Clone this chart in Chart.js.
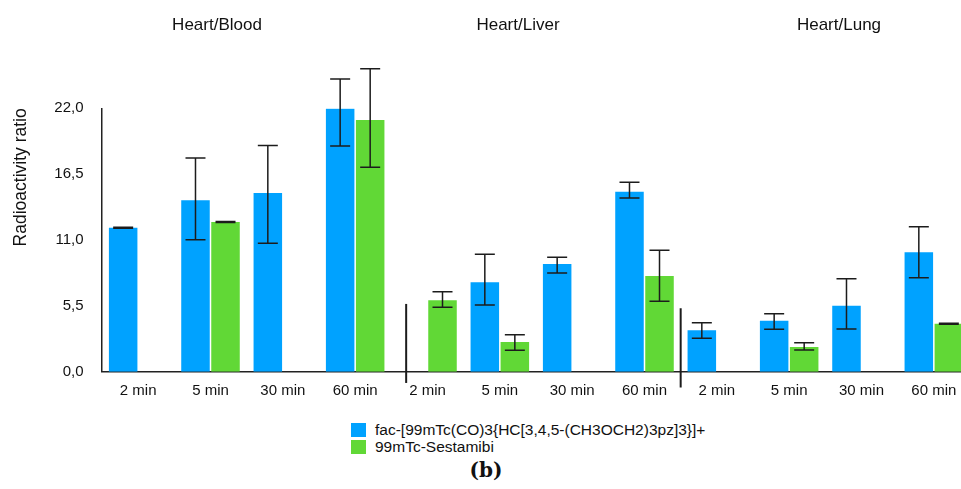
<!DOCTYPE html>
<html>
<head>
<meta charset="utf-8">
<script src="https://cdn.jsdelivr.net/npm/chart.js@4.4.1/dist/chart.umd.min.js"></script>
<style>
  html, body { margin: 0; padding: 0; width: 961px; height: 489px; overflow: hidden; background: #fff; }
  #wrap { position: absolute; left: 0; top: 0; width: 970px; height: 400px; }
  .organ { position: absolute; top: 15px; line-height: 20px; font: 17px 'Liberation Sans', Arial, sans-serif; color: #111; transform: translateX(-50%); white-space: nowrap; }
  #legend { position: absolute; left: 351px; top: 421px; font: 15.5px 'Liberation Sans', Arial, sans-serif; color: #111; }
  .item { display: flex; align-items: center; height: 17px; line-height: 17px; white-space: nowrap; }
  .box { width: 15px; height: 14px; margin-right: 9px; }
  #fig { position: absolute; left: 486px; top: 458px; line-height: 24px; transform: translateX(-50%); font: bold 20px 'DejaVu Serif', 'Liberation Serif', serif; color: #111; }
</style>
</head>
<body>
<div id="wrap"><canvas id="chart"></canvas></div>
<div id="titles"></div>
<div id="legend"></div>
<div id="fig">(b)</div>
<script>
const organs = ['Heart/Blood', 'Heart/Liver', 'Heart/Lung'];
const times = ['2 min', '5 min', '30 min', '60 min'];
const seriesNames = ['fac-[99mTc(CO)3{HC[3,4,5-(CH3OCH2)3pz]3}]+', '99mTc-Sestamibi'];

// values, 4 time points per organ ratio
const complexRatio   = [12.03, 14.32, 14.93, 21.97,  null, 7.47, 9.00, 15.04,  3.46, 4.26, 5.51, 9.97];
const complexErrUp   = [0.04,  3.53,  3.97,  2.48,   null, 2.34, 0.55, 0.78,   0.63, 0.59, 2.26, 2.14];
const complexErrDown = [0.04,  3.29,  4.20,  3.11,   null, 1.90, 0.75, 0.53,   0.67, 0.72, 1.94, 2.12];

const sestamibiRatio   = [null, 12.50, null, 21.03,  5.96, 2.48, null, 8.00,  null, 2.06, null, 4.01];
const sestamibiErrUp   = [null, 0.04,  null, 4.27,   0.72, 0.61, null, 2.14,  null, 0.36, null, 0.04];
const sestamibiErrDown = [null, 0.04,  null, 3.95,   0.58, 0.69, null, 2.12,  null, 0.25, null, 0.04];

const yTicks = [0, 5.5, 11, 16.5, 22];

const colors = ['#00A2FF', '#61D836'];
const organTitleX = [217, 518, 839];
// short divider strokes: [category position, top value, bottom value]
const dividers = [[3.705, 5.66, -0.94], [7.5, 5.3, -1.32]];

const labels = organs.flatMap(() => times);
const font = "'Liberation Sans', Arial, sans-serif";

const errorBars = {
  id: 'errorBars',
  afterDatasetsDraw(chart) {
    const { ctx, scales: { x, y } } = chart;
    ctx.save();
    ctx.strokeStyle = '#1c1c1c';
    ctx.lineWidth = 1.5;
    chart.data.datasets.forEach((ds, di) => {
      chart.getDatasetMeta(di).data.forEach((bar, i) => {
        const v = ds.data[i];
        if (v == null) return;
        const top = y.getPixelForValue(v + ds.errUp[i]);
        const bot = y.getPixelForValue(v - ds.errDown[i]);
        const cx = bar.x, w = 10;
        ctx.beginPath();
        ctx.moveTo(cx, top); ctx.lineTo(cx, bot);
        ctx.moveTo(cx - w, top); ctx.lineTo(cx + w, top);
        ctx.moveTo(cx - w, bot); ctx.lineTo(cx + w, bot);
        ctx.stroke();
      });
    });
    ctx.lineWidth = 2;
    dividers.forEach(([pos, v1, v2]) => {
      const px = x.getPixelForValue(pos);
      ctx.beginPath();
      ctx.moveTo(px, y.getPixelForValue(v1));
      ctx.lineTo(px, y.getPixelForValue(v2));
      ctx.stroke();
    });
    ctx.restore();
  }
};

new Chart(document.getElementById('chart'), {
  type: 'bar',
  data: {
    labels,
    datasets: [
      { label: seriesNames[0], data: complexRatio, errUp: complexErrUp, errDown: complexErrDown, backgroundColor: colors[0] },
      { label: seriesNames[1], data: sestamibiRatio, errUp: sestamibiErrUp, errDown: sestamibiErrDown, backgroundColor: colors[1] }
    ]
  },
  options: {
    responsive: true,
    maintainAspectRatio: false,
    animation: false,
    categoryPercentage: 0.83,
    barPercentage: 0.95,
    layout: { padding: { top: 108.3, left: 0, right: 0, bottom: 0 } },
    plugins: { legend: { display: false }, tooltip: { enabled: false } },
    scales: {
      x: {
        grid: { display: false },
        border: { display: true, color: '#222', width: 1.5 },
        ticks: { color: '#111', font: { family: font, size: 15 }, padding: 2, maxRotation: 0, autoSkip: false },
        afterFit(s) { s.height = 28.3; }
      },
      y: {
        min: 0,
        max: 22,
        grid: { display: false, drawTicks: false },
        border: { display: true, color: '#222', width: 1.5 },
        ticks: {
          color: '#111',
          font: { family: font, size: 15 },
          padding: 18.5,
          callback: v => v.toFixed(1).replace('.', ',')
        },
        afterBuildTicks(s) { s.ticks = yTicks.map(v => ({ value: v })); },
        title: { display: true, text: 'Radioactivity ratio', align: 'end', color: '#111', font: { family: font, size: 17.5 }, padding: { top: 11 } },
        afterFit(s) { s.width = 102; }
      }
    }
  },
  plugins: [errorBars]
});

const titles = document.getElementById('titles');
organs.forEach((o, i) => {
  const d = document.createElement('div');
  d.className = 'organ';
  d.style.left = organTitleX[i] + 'px';
  d.textContent = o;
  titles.appendChild(d);
});

const legend = document.getElementById('legend');
seriesNames.forEach((name, i) => {
  const row = document.createElement('div');
  row.className = 'item';
  row.innerHTML = `<span class="box" style="background:${colors[i]}"></span><span></span>`;
  row.lastChild.textContent = name;
  legend.appendChild(row);
});
</script>
</body>
</html>
